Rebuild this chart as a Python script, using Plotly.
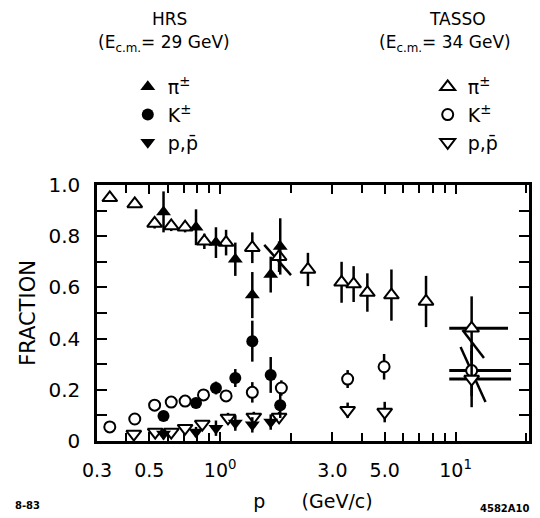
import plotly.graph_objects as go

# ---------------- data ----------------
# HRS (E_cm = 29 GeV) - filled symbols
hrs_p = [0.575, 0.79, 0.96, 1.16, 1.37, 1.64, 1.80]
hrs_pi = [0.895, 0.835, 0.775, 0.71, 0.57, 0.65, 0.76]
hrs_pi_err = [0.08, 0.07, 0.06, 0.065, 0.09, 0.07, 0.11]
hrs_k = [0.098, 0.148, 0.207, 0.246, 0.39, 0.258, 0.14]
hrs_k_err = [0.012, 0.02, 0.025, 0.035, 0.08, 0.07, 0.05]
hrs_pr_p = [0.575, 0.79, 0.96, 1.16, 1.37, 1.64]
hrs_pr = [0.027, 0.035, 0.05, 0.07, 0.063, 0.074]
hrs_pr_err = [0.02, 0.02, 0.03, 0.03, 0.03, 0.03]

# TASSO (E_cm = 34 GeV) - open symbols
tasso_pi_p = [0.34, 0.434, 0.527, 0.62, 0.71, 0.857, 1.06, 1.37, 1.78, 2.36, 3.28, 3.69, 4.22, 5.34, 7.49, 11.7]
tasso_pi = [0.95, 0.926, 0.85, 0.84, 0.835, 0.78, 0.775, 0.755, 0.72, 0.67, 0.62, 0.613, 0.58, 0.57, 0.545, 0.44]
tasso_pi_err = [0.0, 0.0, 0.02, 0.02, 0.02, 0.03, 0.05, 0.06, 0.06, 0.065, 0.08, 0.07, 0.075, 0.10, 0.10, 0.125]
tasso_pi_xlo = [0] * 15 + [2.3]
tasso_pi_xhi = [0] * 15 + [5.0]

tasso_k_p = [0.34, 0.434, 0.527, 0.62, 0.71, 0.85, 1.06, 1.37, 1.82, 3.48, 4.97, 11.7]
tasso_k = [0.055, 0.086, 0.14, 0.152, 0.156, 0.18, 0.176, 0.19, 0.207, 0.242, 0.29, 0.275]
tasso_k_err = [0, 0, 0, 0, 0, 0.02, 0.02, 0.04, 0.03, 0.035, 0.05, 0.10]
tasso_k_xlo = [0] * 11 + [2.3]
tasso_k_xhi = [0] * 11 + [5.5]

tasso_pr_p = [0.43, 0.53, 0.62, 0.71, 0.84, 1.08, 1.39, 1.78, 3.48, 5.0, 11.7]
tasso_pr = [0.027, 0.035, 0.035, 0.05, 0.066, 0.09, 0.094, 0.094, 0.12, 0.113, 0.242]
tasso_pr_err = [0, 0, 0, 0.01, 0.01, 0.02, 0.02, 0.02, 0.03, 0.04, 0.11]
tasso_pr_xlo = [0] * 10 + [2.3]
tasso_pr_xhi = [0] * 10 + [5.5]

# correlated-error (diagonal) segments: start/end momentum and fraction
corr_p = [[1.54, 2.0], [10.7, 13.2], [10.5, 13.4]]
corr_v = [[0.766, 0.648], [0.434, 0.324], [0.367, 0.152]]

x_tickvals = [0.3, 0.5, 1, 3, 5, 10]
x_ticktext = ["0.3", "0.5", "10<sup>0</sup>", "3.0", "5.0", "10<sup>1</sup>"]
x_minor = [0.4, 0.6, 0.7, 0.8, 0.9, 2, 4, 6, 7, 8, 9, 20]
y_tickvals = [0, 0.2, 0.4, 0.6, 0.8, 1.0]
y_ticktext = ["0", "0.2", "0.4", "0.6", "0.8", "1.0"]

FONT = "DejaVu Sans"
BLACK = "black"


def err(arr):
    return dict(type="data", array=arr, visible=True, color=BLACK, thickness=2.5, width=0)


def errx(hi, lo):
    return dict(type="data", array=hi, arrayminus=lo, symmetric=False, visible=True,
                color=BLACK, thickness=3, width=0)


def open_marker(symbol, size):
    return dict(symbol=symbol, size=size, color="white", line=dict(width=2, color=BLACK))


fig = go.Figure()

# correlated error lines
cx, cy = [], []
for px, vy in zip(corr_p, corr_v):
    cx += px + [None]
    cy += vy + [None]
fig.add_trace(go.Scatter(x=cx, y=cy, mode="lines", line=dict(color=BLACK, width=2.5),
                         showlegend=False, hoverinfo="skip"))

# TASSO
fig.add_trace(go.Scatter(x=tasso_pi_p, y=tasso_pi, mode="markers", name="π<sup>±</sup>",
                         legend="legend2", marker=open_marker("triangle-up", 13),
                         error_y=err(tasso_pi_err), error_x=errx(tasso_pi_xhi, tasso_pi_xlo)))
fig.add_trace(go.Scatter(x=tasso_k_p, y=tasso_k, mode="markers", name="K<sup>±</sup>",
                         legend="legend2", marker=open_marker("circle", 11),
                         error_y=err(tasso_k_err), error_x=errx(tasso_k_xhi, tasso_k_xlo)))
fig.add_trace(go.Scatter(x=tasso_pr_p, y=tasso_pr, mode="markers", name="p,p\u0304",
                         legend="legend2", marker=open_marker("triangle-down", 13),
                         error_y=err(tasso_pr_err), error_x=errx(tasso_pr_xhi, tasso_pr_xlo)))

# HRS
fig.add_trace(go.Scatter(x=hrs_p, y=hrs_pi, mode="markers", name="π<sup>±</sup>",
                         legend="legend",
                         marker=dict(symbol="triangle-up", size=13, color=BLACK),
                         error_y=err(hrs_pi_err)))
fig.add_trace(go.Scatter(x=hrs_p, y=hrs_k, mode="markers", name="K<sup>±</sup>",
                         legend="legend",
                         marker=dict(symbol="circle", size=12, color=BLACK),
                         error_y=err(hrs_k_err)))
fig.add_trace(go.Scatter(x=hrs_pr_p, y=hrs_pr, mode="markers", name="p,p\u0304",
                         legend="legend",
                         marker=dict(symbol="triangle-down", size=13, color=BLACK),
                         error_y=err(hrs_pr_err)))

W, H = 540, 518
L, R, T, B = 97, 8, 185, 77
pw, ph = W - L - R, H - T - B


def px2paper(x, y):
    return (x - L) / pw, (H - B - y) / ph


annots = []
for txt, (x, y), size in [
    ("HRS", (170, 19), 17),
    ("(E<sub>c.m.</sub>= 29 GeV)", (164, 43), 17),
    ("TASSO", (460, 19), 17),
    ("(E<sub>c.m.</sub>= 34 GeV)", (447, 43), 17),
]:
    ax, ay = px2paper(x, y)
    annots.append(dict(text=txt, x=ax, y=ay, xref="paper", yref="paper", showarrow=False,
                       xanchor="center", yanchor="middle", font=dict(family=FONT, size=size, color=BLACK)))
for txt, (x, y), anchor in [("8-83", (12, 505), "left"), ("4582A10", (535, 508), "right")]:
    ax, ay = px2paper(x, y)
    annots.append(dict(text="<b>" + txt + "</b>", x=ax, y=ay, xref="paper", yref="paper", showarrow=False,
                       xanchor=anchor, yanchor="middle", font=dict(family=FONT, size=10, color=BLACK)))

lx1, ly1 = px2paper(128, 68)
lx2, ly2 = px2paper(430, 68)
legend_common = dict(font=dict(family=FONT, size=19, color=BLACK), bgcolor="rgba(0,0,0,0)",
                     xanchor="left", yanchor="top", itemwidth=30, tracegroupgap=0)

fig.update_layout(
    width=W, height=H,
    margin=dict(l=L, r=R, t=T, b=B, pad=0),
    plot_bgcolor="white", paper_bgcolor="white",
    font=dict(family=FONT, color=BLACK),
    annotations=annots,
    legend=dict(x=lx1, y=ly1, **legend_common),
    legend2=dict(x=lx2, y=ly2, **legend_common),
    xaxis=dict(
        type="log", range=[-0.5229, 1.3118],
        tickvals=x_tickvals, ticktext=x_ticktext,
        ticks="inside", ticklen=9, tickwidth=2, tickcolor=BLACK,
        minor=dict(tickvals=x_minor, ticks="inside", ticklen=8, tickwidth=2, tickcolor=BLACK),
        showline=True, linewidth=2.5, linecolor=BLACK, mirror="allticks",
        showgrid=False, zeroline=False,
        tickfont=dict(family=FONT, size=19, color=BLACK), ticklabelstandoff=10,
        title=dict(text="p      (GeV/c)", font=dict(family=FONT, size=19, color=BLACK), standoff=16),
    ),
    yaxis=dict(
        range=[0, 1.0],
        tickvals=y_tickvals, ticktext=y_ticktext,
        ticks="inside", ticklen=10, tickwidth=2, tickcolor=BLACK,
        minor=dict(dtick=0.1, ticks="inside", ticklen=10, tickwidth=2, tickcolor=BLACK),
        showline=True, linewidth=2.5, linecolor=BLACK, mirror="allticks",
        showgrid=False, zeroline=False,
        tickfont=dict(family=FONT, size=20, color=BLACK), ticklabelstandoff=10,
        title=dict(text="FRACTION", font=dict(family=FONT, size=21, color=BLACK), standoff=8),
    ),
)

fig.write_html("out.html")
